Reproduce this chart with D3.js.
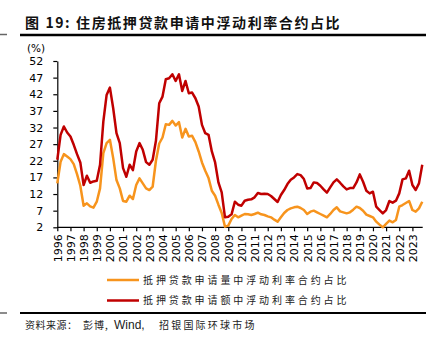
<!DOCTYPE html>
<html>
<head>
<meta charset="utf-8">
<script src="https://cdn.jsdelivr.net/npm/d3@7"></script>
<style>
  body { margin: 0; background: #fff; }
  svg { display: block; }
</style>
</head>
<body>
<svg id="chart" width="443" height="351"></svg>
<script>
// quarterly data, first point = 1996 Q1
const startYear = 1996
const yearTicks = d3.range(1996, 2024)
const yTicks = [2, 7, 12, 17, 22, 27, 32, 37, 42, 47, 52]

// 抵押贷款申请量中浮动利率合约占比 (%)
const shareByCount = [
  15.2, 21.7, 24, 23.3,   22.5, 21, 18, 14.5,   8.5, 9.2, 8.3, 7.9,   9.7, 13.7, 24.3, 27.3,
  28.3, 22.8, 16.2, 13.7,  9.9, 9.7, 11.5, 10.5,  14.7, 16.7, 15.2, 13.7,  13.2, 14.2, 22, 27.2,
  29, 33, 32.8, 34,       32.6, 33.6, 29, 31.6,  29.3, 29.5, 27.6, 24.8,  21.5, 19, 16.8, 13,
  11.5, 8.8, 6.3, 2.2,    2.5, 4.5, 5.7, 5,      5.5, 6, 5.9, 5.7,       6, 6.4, 5.9, 5.7,
  5.3, 5, 4.3, 3.7,       5, 6.3, 7.2, 7.7,      8, 8.2, 7.8, 7.2,       6, 6.7, 7, 6.5,
  6, 5.5, 5, 6,           7.2, 8, 6.8, 6.5,      6.2, 6.5, 7.3, 8.2,     7.8, 7, 5.8, 5.4,
  5, 3.7, 2.8, 2,         3, 4, 3.5, 4.2,        8.2, 8.7, 9.3, 9.9,     7.2, 6.7, 7.7, 9.7
]

// 抵押贷款申请额中浮动利率合约占比 (%)
const shareByAmount = [
  22.3, 29.8, 32.3, 30.5,  29.3, 26.8, 24, 21.5,   14.7, 17.5, 15.4, 15.8,  16, 20.8, 33.8, 41.8,
  44, 37.8, 30.3, 27.3,    19.8, 17.2, 20.8, 19.2,  24.8, 27.3, 25.3, 21.6,  20.8, 22.3, 28, 39.3,
  41.3, 46.5, 46.8, 48,    46, 48, 43, 46,          42.3, 42.5, 40.8, 38.3,  32.8, 30.3, 29.8, 24.8,
  21.5, 15.5, 12.5, 5,     5.2, 5.9, 9.7, 8.8,      8.5, 10, 10.3, 10.4,     11, 12.3, 12, 12.1,
  12, 11.4, 10.5, 9.6,     11.7, 13.2, 15, 16.3,    17, 18, 17.7, 16.5,      13.7, 13.8, 15.5, 15.3,
  14.5, 13.4, 12.4, 14,    15.5, 16.4, 15.4, 14.3,  13.4, 13.8, 13.8, 15.5,  17.9, 15.7, 13, 12.2,
  12.7, 8.2, 7.2, 6.2,     7.2, 9.9, 9.4, 10,       12.2, 16.4, 16.7, 19,    14.7, 13.2, 15.2, 20.8
]

const seriesNames = ['抵押贷款申请量中浮动利率合约占比', '抵押贷款申请额中浮动利率合约占比']
const colors = ['#F7941D', '#C00000']

const svg = d3.select('#chart')
const plot = {left: 57.3, right: 412.4, top: 61, bottom: 227.3}

const x = d3.scaleLinear().domain([1996, 2023]).range([plot.left, plot.right])
const y = d3.scaleLinear().domain([2, 52]).range([plot.bottom, plot.top])

// title + rules
svg.append('text')
  .attr('x', 25).attr('y', 28)
  .attr('font-family', 'Noto Sans CJK SC, sans-serif')
  .attr('font-size', 14).attr('font-weight', 'bold')
  .attr('letter-spacing', 1.6)
  .attr('fill', '#111')
  .text('图 19: 住房抵押贷款申请中浮动利率合约占比')

svg.append('line').attr('x1', 20).attr('x2', 426).attr('y1', 35).attr('y2', 35)
  .attr('stroke', '#000').attr('stroke-width', 2.5)
svg.append('line').attr('x1', 0).attr('x2', 7).attr('y1', 34.5).attr('y2', 34.5)
  .attr('stroke', '#666').attr('stroke-width', 1.5)

// axes
const yAxis = svg.append('g')
  .attr('transform', `translate(${plot.left},0)`)
  .call(d3.axisLeft(y).tickValues(yTicks).tickSize(4).tickSizeOuter(0))
yAxis.selectAll('text')
  .attr('font-family', 'DejaVu Sans, sans-serif').attr('font-size', 11).attr('fill', '#000')
  .attr('x', -14)

const xAxis = svg.append('g')
  .attr('transform', `translate(0,${plot.bottom})`)
  .call(d3.axisBottom(x).tickValues(yearTicks).tickFormat(d3.format('d')).tickSize(4).tickSizeOuter(0))
xAxis.select('.domain').attr('d', `M${plot.left},0H422.7`)
xAxis.selectAll('text')
  .attr('font-family', 'DejaVu Sans, sans-serif').attr('font-size', 11).attr('fill', '#000')
  .attr('transform', 'rotate(-90)')
  .attr('text-anchor', 'end')
  .attr('x', -7).attr('y', 0).attr('dy', '0.35em')

svg.selectAll('.domain, .tick line').attr('stroke', '#000').attr('stroke-width', 1.2)

svg.append('text')
  .attr('x', 36).attr('y', 52)
  .attr('text-anchor', 'middle')
  .attr('font-family', 'DejaVu Sans, sans-serif').attr('font-size', 10.5)
  .text('(%)')

// lines
const line = d3.line()
  .x((d, i) => x(startYear + i / 4))
  .y(d => y(d))

;[shareByCount, shareByAmount].forEach((s, k) => {
  svg.append('path')
    .datum(s)
    .attr('fill', 'none')
    .attr('stroke', colors[k])
    .attr('stroke-width', 2.5)
    .attr('stroke-linejoin', 'round')
    .attr('d', line)
})

// legend
seriesNames.forEach((name, k) => {
  const ly = 280 + k * 20.5
  svg.append('line').attr('x1', 107).attr('x2', 139).attr('y1', ly).attr('y2', ly)
    .attr('stroke', colors[k]).attr('stroke-width', 2.5)
  svg.append('text')
    .attr('x', 143).attr('y', ly).attr('dy', '0.36em')
    .attr('font-family', 'Noto Sans CJK SC, sans-serif').attr('font-size', 10)
    .attr('letter-spacing', 2.9).attr('fill', '#222')
    .text(name)
})

// footer
svg.append('line').attr('x1', 20).attr('x2', 426).attr('y1', 313).attr('y2', 313)
  .attr('stroke', '#000').attr('stroke-width', 2)
svg.append('line').attr('x1', 0).attr('x2', 7).attr('y1', 313).attr('y2', 313)
  .attr('stroke', '#666').attr('stroke-width', 1.5)

const source = svg.append('text')
  .attr('y', 329)
  .attr('font-family', 'Noto Sans CJK SC, sans-serif').attr('font-size', 10)
  .attr('fill', '#222')
source.append('tspan').attr('x', 25).attr('letter-spacing', 0.5).text('资料来源：')
source.append('tspan').attr('x', 83).attr('letter-spacing', 1).text('彭博,')
source.append('tspan').attr('x', 114).attr('font-family', 'Liberation Sans, Arial, sans-serif')
  .attr('font-size', 12).text('Wind,')
source.append('tspan').attr('x', 159).attr('letter-spacing', 2.2).text('招银国际环球市场')
</script>
</body>
</html>
